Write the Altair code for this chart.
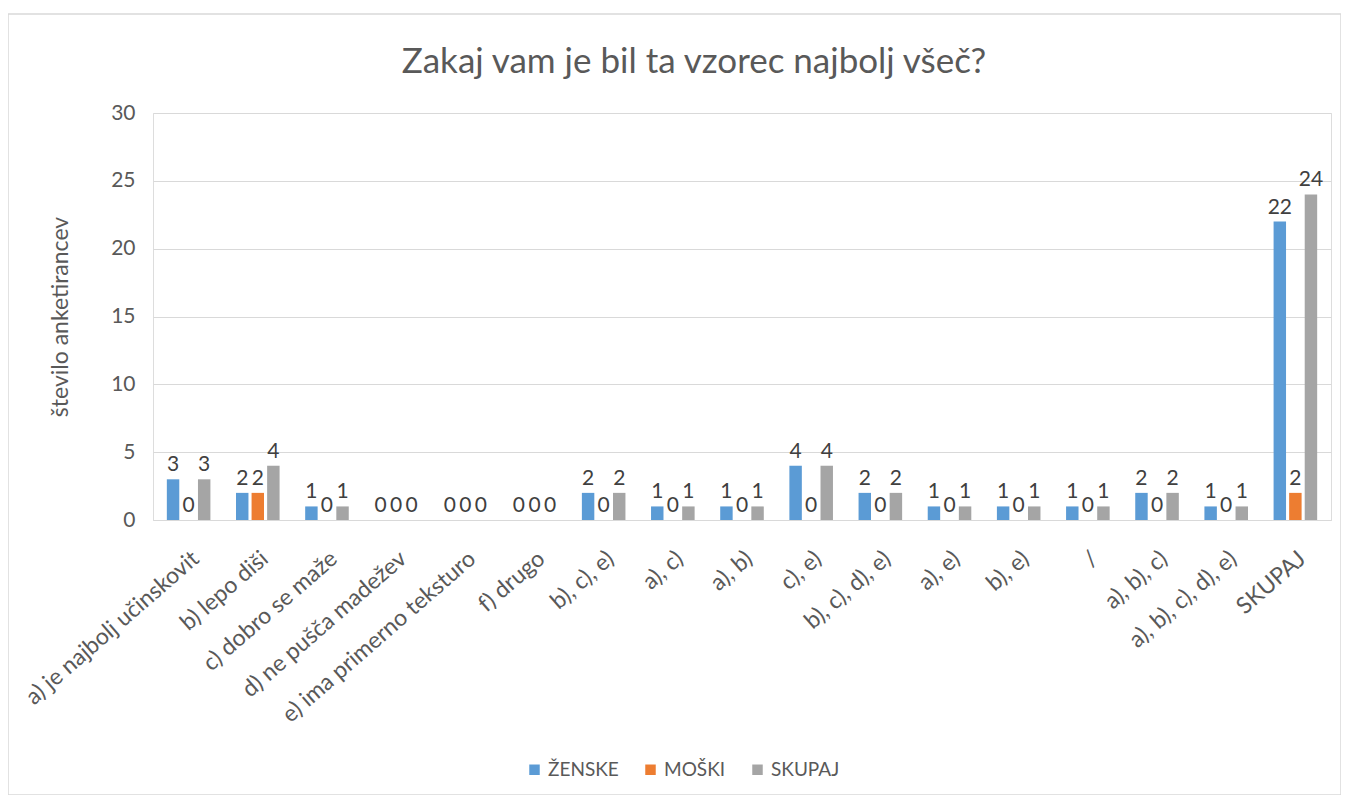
import altair as alt
import pandas as pd

categories = [
    "a) je najbolj učinskovit", "b) lepo diši", "c) dobro se maže",
    "d) ne pušča madežev", "e) ima primerno teksturo", "f) drugo",
    "b), c), e)", "a), c)", "a), b)", "c), e)", "b), c), d), e)",
    "a), e)", "b), e)", "/", "a), b), c)", "a), b), c), d), e)", "SKUPAJ",
]
zenske = [3, 2, 1, 0, 0, 0, 2, 1, 1, 4, 2, 1, 1, 1, 2, 1, 22]
moski = [0, 2, 0, 0, 0, 0, 0, 0, 0, 0, 0, 0, 0, 0, 0, 0, 2]
skupaj = [3, 4, 1, 0, 0, 0, 2, 1, 1, 4, 2, 1, 1, 1, 2, 1, 24]
series = ["ŽENSKE", "MOŠKI", "SKUPAJ"]
colors = ["#5B9BD5", "#ED7D31", "#A5A5A5"]

rows = []
for s, vals in zip(series, [zenske, moski, skupaj]):
    for c, v in zip(categories, vals):
        rows.append({"kategorija": c, "serija": s, "vrednost": v})
df = pd.DataFrame(rows)

FONT = "Lato"
W, H = 1178, 407

x_enc = alt.X("kategorija:N", sort=categories, title=None,
              scale=alt.Scale(paddingInner=0.37),
              axis=alt.Axis(labelAngle=-41, labelFontSize=23, labelColor="#595959",
                            labelFont=FONT, ticks=False, domainColor="#d9d9d9",
                            labelPadding=27, labelLimit=400))
xo_enc = alt.XOffset("serija:N", sort=series, scale=alt.Scale(paddingInner=0.2))

base = alt.Chart(df)

bars = base.mark_bar().encode(
    x=x_enc,
    xOffset=xo_enc,
    y=alt.Y("vrednost:Q", title="število anketirancev",
            scale=alt.Scale(domain=[0, 30]),
            axis=alt.Axis(values=[0, 5, 10, 15, 20, 25, 30], labelFontSize=21,
                          labelColor="#595959", labelFont=FONT, ticks=False,
                          domain=False, gridColor="#d9d9d9", labelPadding=18,
                          titleFontSize=23, titleFont=FONT, titleColor="#595959",
                          titleFontWeight="normal", titlePadding=38)),
    color=alt.Color("serija:N", sort=series,
                    scale=alt.Scale(domain=series, range=colors),
                    legend=alt.Legend(title=None, orient="none", direction="horizontal",
                                      legendX=372, legendY=647, symbolType="square",
                                      symbolSize=110, symbolStrokeWidth=0,
                                      labelFontSize=19, labelFont=FONT,
                                      labelColor="#595959", columnPadding=22)),
)

labels = base.mark_text(baseline="middle", dy=-14, fontSize=21, font=FONT,
                        color="#404040").encode(
    x=alt.X("kategorija:N", sort=categories),
    xOffset=alt.XOffset("serija:N", sort=series),
    y=alt.Y("vrednost:Q"),
    text=alt.Text("vrednost:Q"),
)

border = alt.Chart(pd.DataFrame({"a": [0]})).mark_rect(
    fill=None, stroke="#d9d9d9", strokeWidth=1.5
).encode(x=alt.value(-145), x2=alt.value(W + 10), y=alt.value(-99), y2=alt.value(H + 275))

chart = alt.layer(border, bars, labels).properties(
    width=W, height=H,
    title=alt.TitleParams("Zakaj vam je bil ta vzorec najbolj všeč?", fontSize=35,
                          font=FONT, color="#595959", fontWeight="normal",
                          anchor="middle", dx=-48, offset=0, dy=67),
    autosize=alt.AutoSizeParams(type="none"),
    padding={"left": 145, "right": 10, "top": 105, "bottom": 275},
).configure_view(stroke=None).configure(background="white")

chart.save("out.html", embed_options={"renderer": "svg", "actions": False})
